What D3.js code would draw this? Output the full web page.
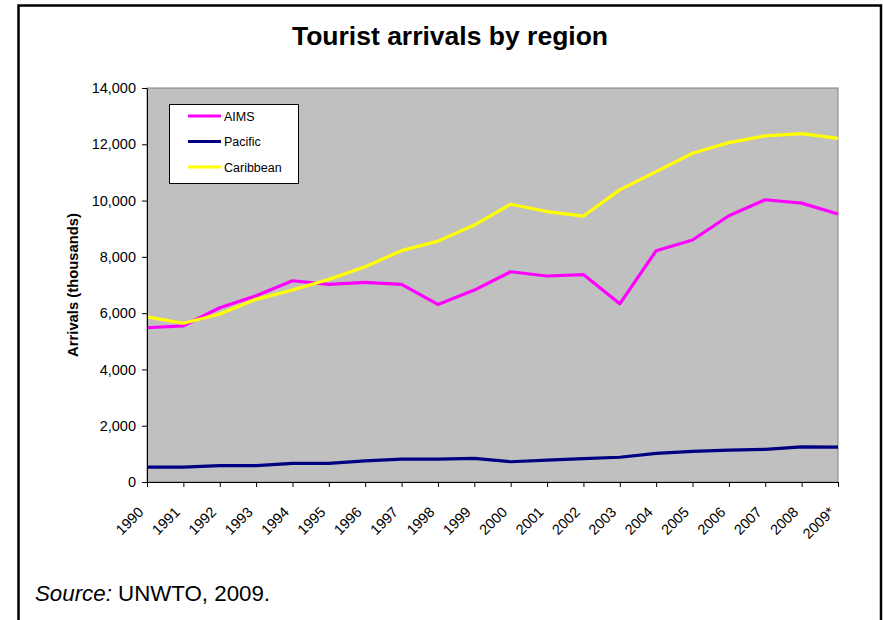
<!DOCTYPE html>
<html>
<head>
<meta charset="utf-8">
<script src="https://cdn.jsdelivr.net/npm/d3@7/dist/d3.min.js"></script>
<style>
  html, body { margin: 0; padding: 0; background: #fff; }
  svg { display: block; font-family: "Liberation Sans", Arial, sans-serif; }
</style>
</head>
<body>
<svg id="chart" width="883" height="620"></svg>
<script>
const years = ["1990","1991","1992","1993","1994","1995","1996","1997","1998","1999",
               "2000","2001","2002","2003","2004","2005","2006","2007","2008","2009*"];
const aims = [5480,5550,6190,6620,7150,7020,7090,7020,6310,6820,
              7470,7320,7370,6330,8220,8600,9460,10030,9910,9520];
const pacific = [530,530,580,580,660,660,750,810,810,840,
                 720,780,830,880,1020,1090,1130,1160,1250,1240];
const caribbean = [5870,5640,5970,6490,6820,7200,7650,8220,8560,9130,
                   9870,9610,9450,10380,11030,11680,12060,12300,12380,12210];
const yTicks = [0,2000,4000,6000,8000,10000,12000,14000];
const seriesNames = ["AIMS","Pacific","Caribbean"];
const seriesColors = ["#FF00FF","#000080","#FFFF00"];
const seriesValues = [aims, pacific, caribbean];

(function () {
const svg = d3.select("#chart");

// outer frame
svg.append("path")
  .attr("d", "M18.5,640 L18.5,5.5 L881,5.5 L881,640")
  .attr("fill", "none").attr("stroke", "#000").attr("stroke-width", 2.5);

// title
svg.append("text")
  .attr("x", 450).attr("y", 45)
  .attr("text-anchor", "middle")
  .attr("font-size", 26.5).attr("font-weight", "bold")
  .text("Tourist arrivals by region");

const pLeft = 147, pRight = 838, pTop = 88, pBottom = 482;
const x = d3.scalePoint().domain(years).range([pLeft, pRight]);
const y = d3.scaleLinear().domain([0, 14000]).range([pBottom, pTop]);

// plot area
svg.append("rect")
  .attr("x", pLeft).attr("y", pTop)
  .attr("width", pRight - pLeft).attr("height", pBottom - pTop)
  .attr("fill", "#C0C0C0").attr("stroke", "#808080").attr("stroke-width", 1);

// lines
const line = d3.line().x((d, i) => x(years[i])).y(d => y(d));
seriesValues.forEach((vals, k) => {
  svg.append("path")
    .datum(vals)
    .attr("d", line)
    .attr("fill", "none")
    .attr("stroke", seriesColors[k])
    .attr("stroke-width", 3.2)
    .attr("stroke-linejoin", "round");
});

// y axis
const yAxis = svg.append("g")
  .attr("transform", `translate(${pLeft},0)`)
  .call(d3.axisLeft(y).tickValues(yTicks).tickFormat(d3.format(",")).tickSize(5).tickPadding(6).tickSizeOuter(0));
yAxis.select(".domain").attr("stroke", "#000");
yAxis.selectAll("text").attr("font-size", 14.5).attr("fill", "#000")
  .attr("font-family", "'Liberation Sans', Arial, sans-serif");

// x axis
const xAxis = svg.append("g")
  .attr("transform", `translate(0,${pBottom})`)
  .call(d3.axisBottom(x).tickSize(5).tickSizeOuter(0));
xAxis.select(".domain").attr("stroke", "#000");
xAxis.selectAll("text")
  .attr("font-size", 14.5).attr("fill", "#000")
  .attr("font-family", "'Liberation Sans', Arial, sans-serif")
  .attr("text-anchor", "end")
  .attr("dy", null)
  .attr("y", 0)
  .attr("transform", "translate(-3,31) rotate(-45)");

// y axis title
svg.append("text")
  .attr("transform", `translate(78,${(pTop + pBottom) / 2}) rotate(-90)`)
  .attr("text-anchor", "middle")
  .attr("font-size", 14.8).attr("font-weight", "bold")
  .text("Arrivals (thousands)");

// legend
const lg = svg.append("g");
lg.append("rect")
  .attr("x", 169.5).attr("y", 104.5).attr("width", 129).attr("height", 79)
  .attr("fill", "#fff").attr("stroke", "#000").attr("stroke-width", 1);
seriesNames.forEach((name, k) => {
  const ly = 116 + k * 25.5;
  lg.append("line")
    .attr("x1", 188).attr("x2", 221).attr("y1", ly).attr("y2", ly)
    .attr("stroke", seriesColors[k]).attr("stroke-width", 3.2);
  lg.append("text")
    .attr("x", 224).attr("y", ly + 4.5)
    .attr("font-size", 12.5)
    .text(name);
});

// source
const src = svg.append("text").attr("x", 35).attr("y", 601).attr("font-size", 22.3);
src.append("tspan").attr("font-style", "italic").text("Source:");
src.append("tspan").text(" UNWTO, 2009.");
})();
</script>
</body>
</html>
